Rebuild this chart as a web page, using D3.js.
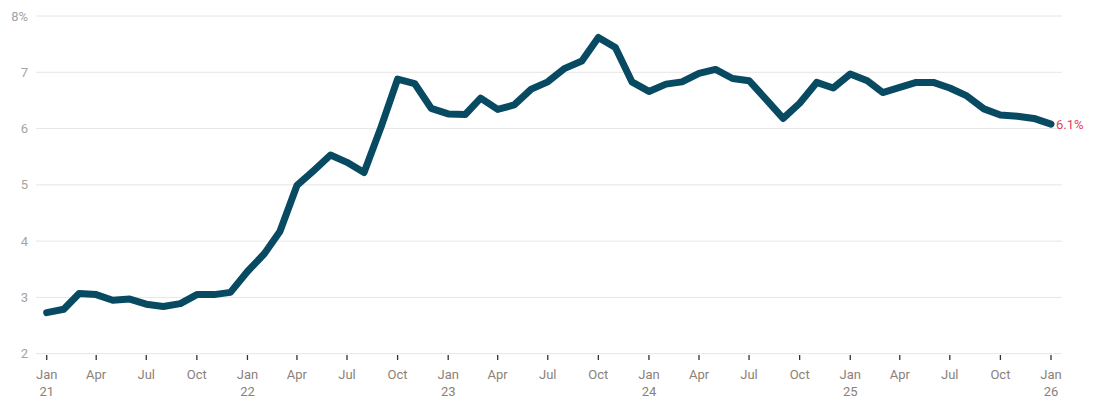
<!DOCTYPE html>
<html><head><meta charset="utf-8">
<script src="https://cdn.jsdelivr.net/npm/d3@7"></script>
<style>body{margin:0;background:#fff;}svg{display:block;font-family:Roboto,sans-serif;}</style>
</head><body><svg id="c" width="1100" height="412"></svg>
<script>
const startYear = 2021, startMonth = 0;
const values = [2.73,2.79,3.07,3.05,2.95,2.97,2.88,2.84,2.89,3.05,3.05,3.09,
3.46,3.78,4.17,4.99,5.25,5.53,5.40,5.22,6.03,6.88,6.80,6.36,
6.26,6.25,6.54,6.34,6.42,6.70,6.83,7.07,7.20,7.62,7.44,6.83,
6.66,6.79,6.83,6.98,7.05,6.89,6.85,6.52,6.18,6.45,6.82,6.72,
6.97,6.85,6.64,6.73,6.82,6.82,6.72,6.58,6.35,6.24,6.22,6.18,
6.08];
const yTicks = [2,3,4,5,6,7,8];
const monthNames = ["Jan","Feb","Mar","Apr","May","Jun","Jul","Aug","Sep","Oct","Nov","Dec"];
const lastLabel = "6.1%";

const data = values.map((v,i)=>({date:new Date(startYear, startMonth+i, 1), v}));
const svg = d3.select("#c");
const x = d3.scaleTime().domain([data[0].date, data[data.length-1].date]).range([46.7,1051]);
const y = d3.scaleLinear().domain([2,8]).range([353.7,16]);

// gridlines
svg.append("g").selectAll("line").data(yTicks).join("line")
  .attr("x1",36).attr("x2",1062).attr("y1",d=>y(d)).attr("y2",d=>y(d))
  .attr("stroke","#e6e6e6").attr("stroke-width",1);
svg.append("g").selectAll("text").data(yTicks).join("text")
  .attr("x",28).attr("y",d=>y(d)).attr("dy","0.35em").attr("text-anchor","end")
  .attr("fill","#a3a3a3").attr("font-size",13)
  .text(d=>d===8?d+"%":d);

// x axis
const xTickDates = d3.timeMonth.every(3).range(data[0].date, d3.timeMonth.offset(data[data.length-1].date,1));
const xg = svg.append("g");
xg.selectAll("line").data(xTickDates).join("line")
  .attr("x1",d=>x(d)).attr("x2",d=>x(d)).attr("y1",355).attr("y2",360)
  .attr("stroke","#333").attr("stroke-width",1.3);
const lab = xg.selectAll("text").data(xTickDates).join("text")
  .attr("x",d=>x(d)).attr("y",379).attr("text-anchor","middle")
  .attr("fill","#8c8179").attr("font-size",13);
lab.append("tspan").attr("x",d=>x(d)).text(d=>monthNames[d.getMonth()]);
lab.filter(d=>d.getMonth()===0).append("tspan").attr("x",d=>x(d)).attr("dy",17)
  .text(d=>String(d.getFullYear()).slice(2));

// line
svg.append("path").datum(data)
  .attr("d", d3.line().x(d=>x(d.date)).y(d=>y(d.v)))
  .attr("fill","none").attr("stroke","#084a61").attr("stroke-width",7)
  .attr("stroke-linejoin","round").attr("stroke-linecap","round");

const last = data[data.length-1];
svg.append("text").attr("x",x(last.date)+5).attr("y",y(last.v)).attr("dy","0.35em")
  .attr("fill","#e4405e").attr("font-size",13).text(lastLabel);
</script></body></html>
